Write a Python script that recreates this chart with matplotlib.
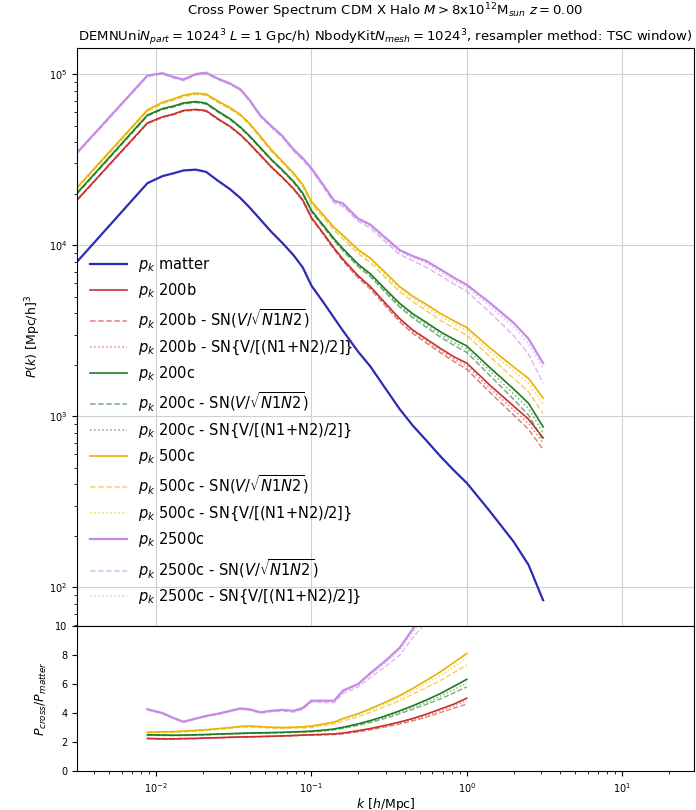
import numpy as np
import matplotlib
matplotlib.use('Agg')
import matplotlib.pyplot as plt

# --- 1. Values ---
k = [0.0031, 0.0088, 0.011, 0.013, 0.015, 0.018, 0.021, 0.025, 0.03, 0.035,
     0.04, 0.047, 0.055, 0.065, 0.077, 0.088, 0.1, 0.12, 0.14, 0.16,
     0.2, 0.24, 0.3, 0.37, 0.45, 0.55, 0.68, 0.83, 1.0, 1.4,
     2.0, 2.5, 3.1]

pk_matter = [7980, 23000, 25300, 26300, 27300, 27600, 26800, 23800, 21200, 18800,
             16600, 14100, 12000, 10300, 8700, 7400, 5800, 4600, 3750, 3150,
             2380, 1950, 1450, 1100, 880, 720, 580, 480, 407, 280,
             185, 135, 84]

# cross / matter ratios for each halo definition (solid, SN sqrt, SN mean)
r_200b = [2.30, 2.25, 2.22, 2.22, 2.24, 2.25, 2.28, 2.30, 2.33, 2.35,
          2.36, 2.38, 2.40, 2.42, 2.45, 2.48, 2.50, 2.53, 2.56, 2.62,
          2.78, 2.93, 3.15, 3.38, 3.62, 3.92, 4.28, 4.62, 5.02, 5.45,
          6.2, 7.1, 8.9]
r_200b_sq = [2.28, 2.23, 2.20, 2.20, 2.22, 2.23, 2.26, 2.28, 2.31, 2.33,
             2.34, 2.36, 2.38, 2.40, 2.43, 2.45, 2.47, 2.49, 2.51, 2.56,
             2.70, 2.84, 3.04, 3.24, 3.46, 3.72, 4.04, 4.34, 4.62, 4.95,
             5.5, 6.2, 7.6]
r_200b_mn = [2.29, 2.24, 2.21, 2.21, 2.23, 2.24, 2.27, 2.29, 2.32, 2.34,
             2.35, 2.37, 2.39, 2.41, 2.44, 2.47, 2.49, 2.51, 2.54, 2.59,
             2.74, 2.89, 3.10, 3.31, 3.55, 3.83, 4.17, 4.49, 4.85, 5.22,
             5.9, 6.7, 8.3]

r_200c = [2.52, 2.50, 2.48, 2.47, 2.48, 2.50, 2.52, 2.55, 2.58, 2.60,
          2.62, 2.63, 2.65, 2.67, 2.70, 2.72, 2.75, 2.82, 2.90, 3.02,
          3.25, 3.48, 3.80, 4.15, 4.50, 4.90, 5.35, 5.85, 6.32, 6.9,
          7.8, 8.8, 10.3]
r_200c_sq = [2.49, 2.47, 2.45, 2.44, 2.45, 2.47, 2.49, 2.52, 2.55, 2.57,
             2.59, 2.60, 2.62, 2.64, 2.66, 2.68, 2.70, 2.76, 2.84, 2.94,
             3.15, 3.35, 3.64, 3.95, 4.26, 4.60, 4.98, 5.40, 5.80, 6.2,
             6.8, 7.5, 8.6]
r_200c_mn = [2.51, 2.49, 2.47, 2.46, 2.47, 2.49, 2.51, 2.54, 2.57, 2.59,
             2.61, 2.62, 2.64, 2.66, 2.68, 2.70, 2.73, 2.79, 2.87, 2.98,
             3.20, 3.42, 3.72, 4.05, 4.38, 4.75, 5.17, 5.62, 6.08, 6.6,
             7.3, 8.2, 9.5]

r_500c = [2.72, 2.68, 2.70, 2.72, 2.75, 2.80, 2.85, 2.92, 3.00, 3.08,
          3.10, 3.06, 3.02, 3.00, 3.02, 3.05, 3.10, 3.25, 3.38, 3.62,
          3.95, 4.30, 4.75, 5.20, 5.70, 6.25, 6.85, 7.50, 8.10, 9.0,
          10.5, 12.3, 15.2]
r_500c_sq = [2.67, 2.63, 2.65, 2.67, 2.70, 2.75, 2.80, 2.87, 2.94, 3.02,
             3.04, 3.00, 2.96, 2.94, 2.95, 2.97, 3.00, 3.13, 3.25, 3.45,
             3.75, 4.05, 4.45, 4.85, 5.30, 5.75, 6.25, 6.80, 7.30, 8.0,
             9.0, 10.3, 12.3]
r_500c_mn = [2.70, 2.66, 2.68, 2.70, 2.73, 2.78, 2.83, 2.90, 2.98, 3.06,
             3.08, 3.04, 3.00, 2.98, 3.00, 3.02, 3.06, 3.20, 3.33, 3.55,
             3.87, 4.20, 4.62, 5.05, 5.52, 6.04, 6.60, 7.20, 7.80, 8.6,
             9.9, 11.5, 14.0]

r_2500c = [4.34, 4.26, 4.00, 3.65, 3.40, 3.62, 3.80, 3.95, 4.15, 4.32,
           4.25, 4.05, 4.15, 4.22, 4.15, 4.35, 4.85, 4.85, 4.85, 5.55,
           6.00, 6.75, 7.60, 8.50, 9.80, 11.2, 12.4, 13.4, 14.4, 16.5,
           19.0, 21.0, 24.3]
r_2500c_sq = [4.29, 4.21, 3.95, 3.60, 3.35, 3.57, 3.75, 3.90, 4.10, 4.26,
              4.19, 3.99, 4.08, 4.14, 4.06, 4.25, 4.75, 4.72, 4.70, 5.35,
              5.80, 6.45, 7.20, 8.00, 9.20, 10.3, 11.4, 12.3, 13.2, 14.5,
              16.0, 17.0, 18.6]
r_2500c_mn = [4.32, 4.24, 3.98, 3.63, 3.38, 3.60, 3.78, 3.93, 4.13, 4.30,
              4.23, 4.03, 4.12, 4.19, 4.12, 4.31, 4.81, 4.80, 4.79, 5.48,
              5.92, 6.64, 7.45, 8.30, 9.55, 10.9, 12.0, 12.9, 13.9, 15.8,
              18.0, 19.8, 22.8]

labels_halo = ['200b', '200c', '500c', '2500c']
colors_halo = ['#c9302c', '#1e7d1e', '#e8b400', '#c68be6']
ratios = [(r_200b, r_200b_sq, r_200b_mn),
          (r_200c, r_200c_sq, r_200c_mn),
          (r_500c, r_500c_sq, r_500c_mn),
          (r_2500c, r_2500c_sq, r_2500c_mn)]

k = np.array(k)
pk_matter = np.array(pk_matter)

# --- 2. Figure layout ---
fig = plt.figure(figsize=(6.96, 8.10), dpi=100)
ax1 = fig.add_axes([0.1106, 0.2272, 0.8865, 0.7136])
ax2 = fig.add_axes([0.1106, 0.0481, 0.8865, 0.1791], sharex=ax1)

ax1.loglog(k, pk_matter, color='#2b2bb5', lw=1.6, label=r'$p_k$ matter')

lower = (k > 0.005) & (k <= 1.0)
for name, col, (r_sol, r_sq, r_mn) in zip(labels_halo, colors_halo, ratios):
    lw_sol = 1.6 if name == '2500c' else 1.2
    ax1.loglog(k, np.array(r_sol) * pk_matter, color=col, lw=lw_sol,
               label=r'$p_k$ ' + name)
    ax1.loglog(k, np.array(r_sq) * pk_matter, color=col, lw=1.1, ls='--', alpha=0.6,
               label=r'$p_k$ ' + name + r' - SN($V/\sqrt{N1N2}$)')
    ax1.loglog(k, np.array(r_mn) * pk_matter, color=col, lw=1.1, ls=':', alpha=0.6,
               label=r'$p_k$ ' + name + ' - SN{V/[(N1+N2)/2]}')

    ax2.plot(k[lower], np.array(r_sol)[lower], color=col, lw=lw_sol)
    ax2.plot(k[lower], np.array(r_sq)[lower], color=col, lw=1.0, ls='--', alpha=0.6)
    ax2.plot(k[lower], np.array(r_mn)[lower], color=col, lw=1.0, ls=':', alpha=0.6)

ax1.set_xlim(0.0031, 29)
ax1.set_ylim(59.4, 1.42e5)
ax1.grid(True, which='major', color='#d0d0d0', lw=0.8)
ax1.tick_params(labelbottom=False, labelsize=7)
ax1.set_ylabel(r'$P(k)$ [Mpc/h]$^3$', fontsize=9)
ax1.set_title('Cross Power Spectrum CDM X Halo $M > $8x10$^{12}$M$_{sun}$ $z = 0.00$\n'
              r'DEMNUni$N_{part} = 1024^3$ $L = 1$ Gpc/h) NbodyKit$N_{mesh} = 1024^3$, '
              'resampler method: TSC window)', fontsize=9.5, linespacing=1.45, pad=5)

ax1.legend(loc='upper left', bbox_to_anchor=(0.0, 0.665), frameon=False,
           fontsize=10.5, handlelength=2.5, labelspacing=0.5)

ax2.set_xscale('log')
ax2.set_ylim(0, 10)
ax2.set_yticks([0, 2, 4, 6, 8, 10])
ax2.tick_params(labelsize=7)
ax2.set_xlabel(r'$k$ [$h$/Mpc]', fontsize=9, labelpad=1)
ax2.set_ylabel(r'$P_{cross}/P_{matter}$', fontsize=9)

fig.savefig('out.png', dpi=100)
